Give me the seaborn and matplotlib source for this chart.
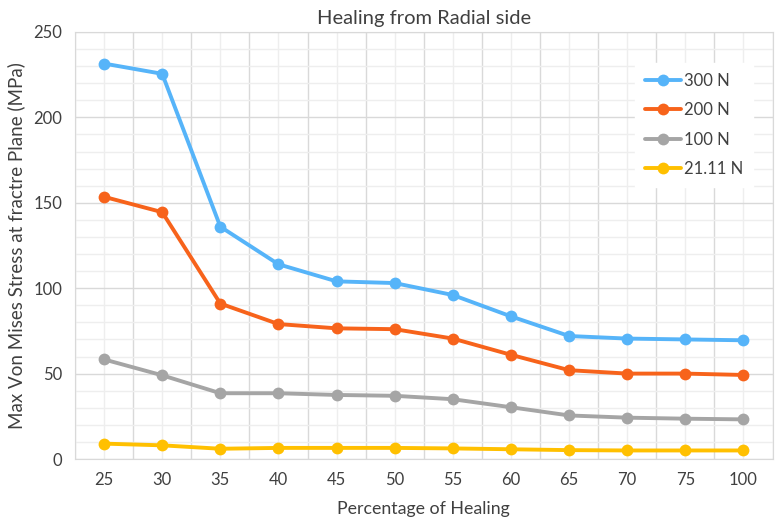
import numpy as np
import pandas as pd
import matplotlib
matplotlib.use('Agg')
import matplotlib.pyplot as plt
import seaborn as sns

healing = ['25', '30', '35', '40', '45', '50', '55', '60', '65', '70', '75', '100']
s300 = [231.5, 225.5, 136, 114, 104, 103, 96, 83.5, 72, 70.5, 70, 69.5]
s200 = [153.5, 144.5, 91, 79, 76.5, 76, 70.5, 61, 52, 50, 50, 49.2]
s100 = [58.3, 49, 38.5, 38.5, 37.5, 37, 35, 30.3, 25.5, 24.2, 23.6, 23.2]
s21 = [9, 8, 6, 6.5, 6.5, 6.5, 6.2, 5.7, 5.2, 5, 5, 5]
series = ['300 N', '200 N', '100 N', '21.11 N']
colors = ['#56B4F9', '#F7631B', '#A5A5A5', '#FFC000']

df = pd.DataFrame({
    'Healing': healing * 4,
    'Stress': s300 + s200 + s100 + s21,
    'Load': [s for s in series for _ in healing],
})

sns.set_style('white')
plt.rcParams['font.family'] = ['Lato', 'DejaVu Sans']

fig = plt.figure(figsize=(7.75, 5.19), dpi=100)
ax = fig.add_axes([0.0968, 0.1156, 0.9, 0.8228])

sns.lineplot(data=df, x='Healing', y='Stress', hue='Load', hue_order=series,
             palette=colors, marker='o', markersize=8.5, markeredgewidth=0,
             linewidth=2.8, ax=ax, sort=False)

ax.set_xlim(-0.5, len(healing) - 0.5)
ax.set_ylim(0, 250)
ax.set_yticks(np.arange(0, 251, 50))
ax.set_yticks(np.arange(0, 251, 10), minor=True)
ax.set_xticks(np.arange(len(healing)))
ax.set_xticklabels(healing)
ax.set_xticks(np.arange(-0.5, len(healing)), minor=True)

ax.grid(which='minor', axis='x', color='#d9d9d9', lw=1.0)
ax.grid(which='major', axis='x', color='#eeeeee', lw=1.0)
ax.grid(which='major', axis='y', color='#d9d9d9', lw=1.0)
ax.grid(which='minor', axis='y', color='#eeeeee', lw=1.0)
ax.set_axisbelow(True)
ax.tick_params(which='both', length=0, labelsize=12, colors='#404040', pad=9)
for sp in ax.spines.values():
    sp.set_color('#d9d9d9')

ax.set_xlabel('Percentage of Healing', fontsize=12.8, color='#404040', labelpad=10)
ax.set_ylabel('Max Von Mises Stress at fractre Plane (MPa)', fontsize=13.5, color='#404040', labelpad=6)
ax.set_title('Healing from Radial side', fontsize=14.5, color='#404040', pad=6)

leg = ax.legend(loc='upper right', bbox_to_anchor=(0.984, 0.947), frameon=True,
                fontsize=12, labelspacing=0.8, handlelength=2.2, handletextpad=0.15,
                borderpad=0.6, fancybox=False)
leg.get_frame().set_edgecolor('white')
leg.get_frame().set_facecolor('white')
leg.get_frame().set_alpha(1)
for t in leg.get_texts():
    t.set_color('#404040')

fig.savefig('out.png', dpi=100)
